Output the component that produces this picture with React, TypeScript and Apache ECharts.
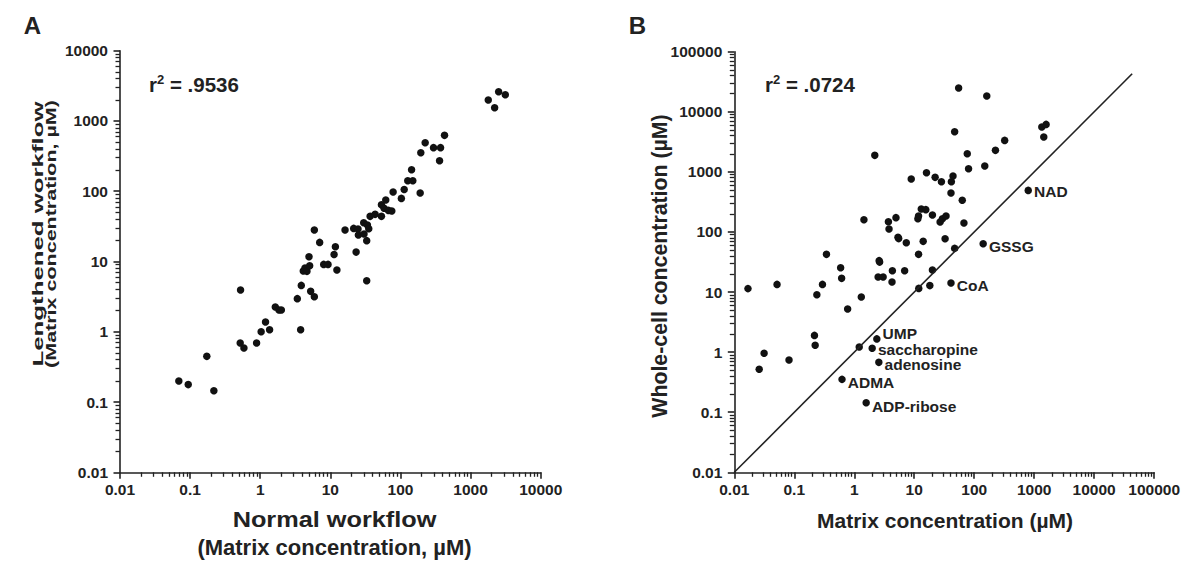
import React, { useEffect, useRef } from "react";
import * as echarts from "echarts";

// ---------- Panel A data ----------
const normalWorkflowA = [
  0.069, 0.094, 0.173, 0.218, 0.524, 0.518, 0.585, 0.887, 1.03, 1.19, 1.36, 1.64,
  1.85, 2.0, 3.38, 3.77, 3.85, 4.11, 4.35, 4.64, 4.96, 5.07, 5.24, 5.91, 5.91, 7.04,
  8.03, 9.27, 11.3, 11.8, 12.4, 16.2, 21.5, 24.8, 23.3, 25.1, 29.9, 30.2, 33.0, 33.0,
  33.8, 35.3, 36.9, 43.5, 53.5, 53.5, 61.7, 58.4, 67.4, 75.2, 78.5, 103, 113, 127,
  150, 144, 191, 195, 225, 296, 373, 361, 425, 1787, 2203, 2512, 3126,
];
const lengthenedWorkflowA = [
  0.199, 0.177, 0.447, 0.145, 3.93, 0.692, 0.587, 0.692, 1.0, 1.38, 1.07, 2.25,
  2.04, 2.04, 2.96, 1.07, 4.57, 7.31, 8.07, 7.24, 11.7, 8.71, 3.76, 3.15, 28.0, 18.7,
  9.1, 9.1, 12.6, 16.2, 7.57, 28.0, 29.6, 29.0, 13.6, 23.8, 35.7, 24.6, 19.8, 5.33,
  33.0, 29.3, 43.9, 46.9, 43.9, 64.3, 75.0, 57.1, 53.4, 52.3, 97.5, 79.1, 106, 141,
  141, 202, 94.2, 353, 491, 417, 417, 272, 624, 1987, 1545, 2610, 2366,
];
const rSquaredA = ".9536";

// ---------- Panel B data ----------
const matrixB = [
  0.0169, 0.026, 0.0314, 0.0516, 0.0817, 0.217, 0.223, 0.238, 0.295, 0.344,
  0.593, 0.616, 0.776, 1.21, 1.31, 1.45, 2.2, 2.5, 2.6, 2.65,
  3.03, 3.71, 3.8, 4.32, 4.26, 4.96, 5.36, 5.5, 6.92, 7.37,
  8.91, 11.5, 11.8, 11.8, 11.9, 13.1, 14.1, 15.6, 16.0, 18.2,
  20.1, 20.1, 22.3, 27.0, 28.4, 29.5, 32.7, 33.9, 41.0, 41.6,
  44.3, 47.2, 47.2, 55.0, 63.2, 67.4, 76.6, 80.5, 150, 162,
  226, 322, 1340, 1581, 1445,
];
const wholeCellB = [
  11.4, 0.518, 0.955, 13.4, 0.74, 1.9, 1.3, 9.04, 13.4, 42.4,
  25.4, 16.9, 5.22, 1.22, 8.26, 160, 1884, 17.8, 33.3, 31.5,
  17.8, 148, 112, 22.6, 14.7, 173, 81.3, 77.5, 22.6, 66.2,
  760, 166, 184, 42.4, 11.5, 241, 69.8, 235, 968, 12.8,
  191, 23.3, 811, 146, 686, 166, 77.3, 184, 445, 686,
  853, 4660, 53.3, 24800, 336, 141, 2004, 1130, 1250, 18300,
  2280, 3340, 5570, 6170, 3800,
];
const labelNamesB = ["NAD", "GSSG", "CoA", "UMP", "saccharopine", "adenosine", "ADMA", "ADP-ribose"];
const labelMatrixB = [796, 141, 41.0, 2.38, 1.99, 2.57, 0.625, 1.58];
const labelWholeCellB = [492, 63.8, 14.1, 1.66, 1.16, 0.676, 0.352, 0.144];
const identityLineB = [0.01, 43000];
const rSquaredB = ".0724";

// ---------- Axis ticks ----------
const tickLabelsA = ["0.01", "0.1", "1", "10", "100", "1000", "10000"];
const tickLabelsB = ["0.01", "0.1", "1", "10", "100", "1000", "10000", "100000"];
const minorTickFactors = [2, 3, 4, 5, 6, 7, 8, 9];
const axisMin = 0.01;
const axisMaxA = 10000;
const axisMaxB = 100000;

const TEXT = "#222222";
const DOT = "#111111";
const MINOR = "#222222";
const FONT = "'Liberation Sans', Arial, Helvetica, sans-serif";

function minorValues(min: number, max: number): number[] {
  const out: number[] = [];
  for (let d = min; d < max * 0.999; d *= 10) {
    for (const f of minorTickFactors) out.push(+(d * f).toPrecision(6));
  }
  return out;
}

function labelFor(labels: string[]) {
  return (v: number) => {
    const e = Math.round(Math.log10(v));
    return labels[e + 2] ?? "";
  };
}

function makeAxis(gridIndex: number, max: number, labels: string[], isY: boolean) {
  return {
    type: "log",
    logBase: 10,
    gridIndex,
    position: isY ? "left" : "bottom",
    min: axisMin,
    max,
    axisLine: { show: true, lineStyle: { color: TEXT, width: 1.6 } },
    axisTick: { show: true, length: 6.5, lineStyle: { color: TEXT, width: 1.6 } },
    axisLabel: {
      show: true,
      fontSize: 15.5,
      fontWeight: "bold",
      fontFamily: FONT,
      color: TEXT,
      margin: isY ? 12 : 9,
      formatter: labelFor(labels),
    },
    splitLine: { show: false },
  };
}

// overlay axis carrying only the minor ticks, at the log positions 2..9 x 10^k
function makeMinorAxis(gridIndex: number, max: number, isY: boolean) {
  return {
    type: "log",
    logBase: 10,
    gridIndex,
    position: isY ? "left" : "bottom",
    offset: 0,
    min: axisMin,
    max,
    axisLine: { show: false },
    axisTick: {
      show: true,
      length: 4.5,
      customValues: minorValues(axisMin, max),
      lineStyle: { color: MINOR, width: 1.3 },
    },
    axisLabel: { show: false },
    splitLine: { show: false },
  };
}

const labelNudge: Record<string, number[]> = {
  UMP: [0, -5],
  NAD: [0, 1],
  GSSG: [0, 3],
  CoA: [0, 2],
  saccharopine: [0, 1],
  adenosine: [0, 2],
  ADMA: [0, 3],
  "ADP-ribose": [0, 4],
};

function rText(x: number, y: number, value: string) {
  return {
    type: "text",
    x,
    y,
    style: {
      text: `{a|r}{b|2}{a| = ${value}}`,
      fontFamily: FONT,
      verticalAlign: "middle",
      rich: {
        a: { fontSize: 20.5, fontWeight: "bold", fill: TEXT, fontFamily: FONT, lineHeight: 23 },
        b: { fontSize: 13, fontWeight: "bold", fill: TEXT, fontFamily: FONT, verticalAlign: "top" },
      },
    },
  };
}

function titleText(
  x: number,
  y: number,
  text: string,
  rotate: boolean,
  size: number,
  scaleX = 1,
  scaleY = 1
) {
  return {
    type: "text",
    x,
    y,
    rotation: rotate ? Math.PI / 2 : 0,
    scaleX,
    scaleY,
    style: {
      text,
      fontSize: size,
      fontWeight: "bold",
      fontFamily: FONT,
      fill: TEXT,
      align: "center",
      verticalAlign: "middle",
    },
  };
}

export default function App() {
  const ref = useRef<HTMLDivElement>(null);
  useEffect(() => {
    document.body.style.margin = "0";
    if (!ref.current) return;
    const chart = echarts.init(ref.current, undefined, { renderer: "svg" });
    const pointsA = normalWorkflowA.map((x, i) => [x, lengthenedWorkflowA[i]]);
    const pointsB = matrixB.map((x, i) => [x, wholeCellB[i]]);
    const labeledB = labelNamesB.map((n, i) => ({
      name: n,
      value: [labelMatrixB[i], labelWholeCellB[i]],
      label: { offset: labelNudge[n] || [0, 0] },
    }));
    chart.setOption({
      animation: false,
      backgroundColor: "#ffffff",
      grid: [
        { left: 120, top: 50.7, width: 420.7, height: 421.6 },
        { left: 734.3, top: 51.7, width: 422.7, height: 420.6 },
      ],
      xAxis: [
        makeAxis(0, axisMaxA, tickLabelsA, false),
        makeAxis(1, axisMaxB, tickLabelsB, false),
        makeMinorAxis(0, axisMaxA, false),
        makeMinorAxis(1, axisMaxB, false),
      ],
      yAxis: [
        makeAxis(0, axisMaxA, tickLabelsA, true),
        makeAxis(1, axisMaxB, tickLabelsB, true),
        makeMinorAxis(0, axisMaxA, true),
        makeMinorAxis(1, axisMaxB, true),
      ],
      series: [
        {
          type: "line",
          xAxisIndex: 1,
          yAxisIndex: 1,
          data: identityLineB.map((v) => [v, v]),
          showSymbol: false,
          symbol: "none",
          lineStyle: { color: TEXT, width: 1.6 },
          silent: true,
        },
        {
          type: "scatter",
          xAxisIndex: 0,
          yAxisIndex: 0,
          data: pointsA,
          symbolSize: 7.5,
          itemStyle: { color: DOT, opacity: 1 },
        },
        {
          type: "scatter",
          xAxisIndex: 1,
          yAxisIndex: 1,
          data: pointsB,
          symbolSize: 7.5,
          itemStyle: { color: DOT, opacity: 1 },
        },
        {
          type: "scatter",
          xAxisIndex: 1,
          yAxisIndex: 1,
          data: labeledB,
          symbolSize: 7.5,
          itemStyle: { color: DOT, opacity: 1 },
          label: {
            show: true,
            position: "right",
            distance: 2,
            formatter: "{b}",
            fontSize: 15.5,
            lineHeight: 12,
            fontWeight: "bold",
            fontFamily: FONT,
            color: TEXT,
          },
        },
      ],
      graphic: [
        titleText(32.5, 25, "A", false, 24),
        titleText(637.5, 25.5, "B", false, 24),
        rText(149, 84, rSquaredA),
        rText(765, 84, rSquaredB),
        titleText(334.5, 520, "Normal workflow", false, 22, 1.15, 1),
        titleText(334.5, 547, "(Matrix concentration, \u00b5M)", false, 22),
        titleText(37.5, 234, "Lengthened workflow", true, 21.5, 1.2, 0.66),
        titleText(51, 234, "(Matrix concentration, \u00b5M)", true, 21.5, 1.0, 0.66),
        titleText(945, 520, "Matrix concentration (\u00b5M)", false, 21),
        titleText(660, 266, "Whole-cell concentration (\u00b5M)", true, 21.3),
      ],
    });
    return () => chart.dispose();
  }, []);
  return <div ref={ref} style={{ position: "absolute", left: 0, top: 0, width: 1183, height: 561 }} />;
}
